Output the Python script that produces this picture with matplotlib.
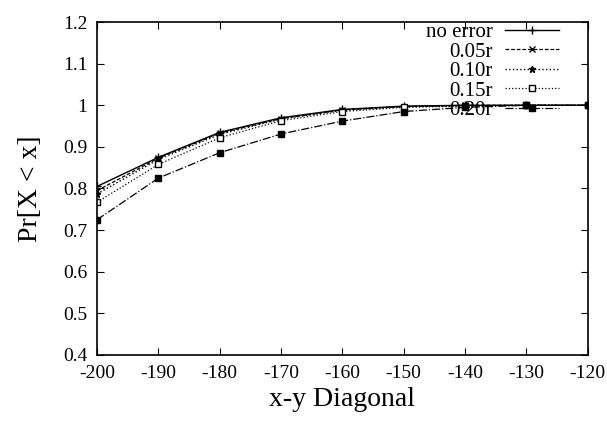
import matplotlib
matplotlib.use('Agg')
import matplotlib.pyplot as plt

# Data
x = [-200, -190, -180, -170, -160, -150, -140, -130, -120]
no_error = [0.805, 0.875, 0.935, 0.970, 0.990, 0.998, 1.0, 1.0, 1.0]
err_005 = [0.795, 0.873, 0.933, 0.968, 0.989, 0.997, 1.0, 1.0, 1.0]
err_010 = [0.787, 0.870, 0.930, 0.967, 0.988, 0.997, 0.999, 1.0, 1.0]
err_015 = [0.767, 0.858, 0.922, 0.963, 0.985, 0.995, 0.998, 1.0, 1.0]
err_020 = [0.725, 0.825, 0.886, 0.931, 0.962, 0.985, 0.995, 1.0, 1.0]

labels = ['no error', '0.05r', '0.10r', '0.15r', '0.20r']
xticks = [-200, -190, -180, -170, -160, -150, -140, -130, -120]
yticks = [0.4, 0.5, 0.6, 0.7, 0.8, 0.9, 1.0, 1.1, 1.2]
yticklabels = ['0.4', '0.5', '0.6', '0.7', '0.8', '0.9', '1', '1.1', '1.2']

plt.rcParams['font.family'] = ['Liberation Serif', 'DejaVu Serif']

fig = plt.figure(figsize=(6.07, 4.25), dpi=100)
ax = fig.add_axes([0.16, 0.165, 0.808, 0.783])

ax.plot(x, no_error, '-', marker='+', color='black', lw=1, ms=6, label=labels[0])
ax.plot(x, err_005, '--', marker='x', color='black', lw=0.9, ms=4, dashes=(3, 1.5), label=labels[1])
ax.plot(x, err_010, ':', marker='*', color='black', lw=1, ms=5, label=labels[2])
ax.plot(x, err_015, ':', marker='s', color='black', mfc='white', lw=0.9, ms=4, label=labels[3])
ax.plot(x, err_020, '-.', marker='s', color='black', lw=0.9, ms=5, label=labels[4])

ax.set_xlim(-200, -120)
ax.set_ylim(0.4, 1.2)
ax.set_xticks(xticks)
ax.set_xticklabels([str(t) for t in xticks])
ax.set_yticks(yticks)
ax.set_yticklabels(yticklabels)
ax.tick_params(direction='in', top=True, right=True, labelsize=14, length=5, pad=7)
for s in ax.spines.values():
    s.set_linewidth(1.2)

ax.set_xlabel('x-y Diagonal', fontsize=20)
ax.set_ylabel('Pr[X < x]', fontsize=20, labelpad=14)

leg = ax.legend(loc='upper right', bbox_to_anchor=(0.959, 1.024), markerfirst=False,
                frameon=False, fontsize=15, handlelength=2.6, labelspacing=0.0,
                borderaxespad=0, handletextpad=0.6)
for t in leg.get_texts():
    t.set_ha('right')
leg._legend_box.align = 'right'

plt.savefig('out.png', dpi=100)
plt.close()
